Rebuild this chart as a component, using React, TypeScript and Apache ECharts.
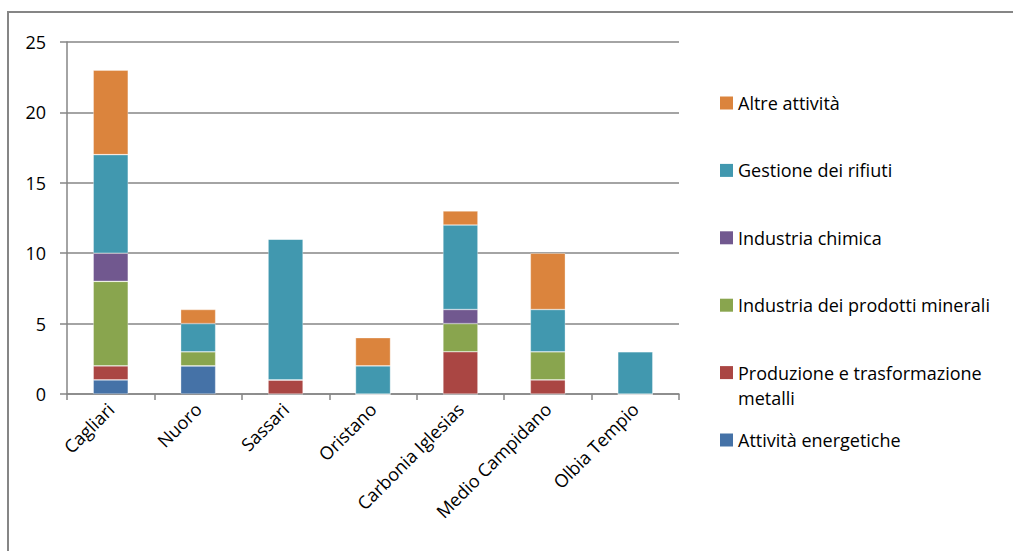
import React, { useEffect, useRef } from "react";
import * as echarts from "echarts";

const categories = ["Cagliari", "Nuoro", "Sassari", "Oristano", "Carbonia Iglesias", "Medio Campidano", "Olbia Tempio"];

const seriesNames = [
  "Attività energetiche",
  "Produzione e trasformazione metalli",
  "Industria dei prodotti minerali",
  "Industria chimica",
  "Gestione dei rifiuti",
  "Altre attività",
];

const attivitaEnergetiche = [1, 2, 0, 0, 0, 0, 0];
const produzioneMetalli = [1, 0, 1, 0, 3, 1, 0];
const prodottiMinerali = [6, 1, 0, 0, 2, 2, 0];
const industriaChimica = [2, 0, 0, 0, 1, 0, 0];
const gestioneRifiuti = [7, 2, 10, 2, 6, 3, 3];
const altreAttivita = [6, 1, 0, 2, 1, 4, 0];

const seriesValues = [attivitaEnergetiche, produzioneMetalli, prodottiMinerali, industriaChimica, gestioneRifiuti, altreAttivita];
const colors = ["#4572A7", "#AA4643", "#89A54E", "#71588F", "#4198AF", "#DB843D"];

const yTicks = { min: 0, max: 25, interval: 5 };

const FONT = "'Open Sans'";
const FS = 18;

export default function App() {
  const ref = useRef<HTMLDivElement>(null);
  useEffect(() => {
    if (!ref.current) return;
    const chart = echarts.init(ref.current, undefined, { renderer: "svg" });

    const legendTop = 103;
    const legendStep = 67.4;
    const legendItems: any[] = [];
    const order = seriesNames.map((_, i) => seriesNames.length - 1 - i);
    order.forEach((si, k) => {
      const cy = legendTop + k * legendStep;
      const name = seriesNames[si];
      const isTwoLine = name === "Produzione e trasformazione metalli";
      legendItems.push({
        type: "rect",
        shape: { x: 720, y: cy - 6.5, width: 13, height: 13 },
        style: { fill: colors[si] },
        silent: true,
      });
      legendItems.push({
        type: "text",
        x: 738,
        y: isTwoLine ? cy - 12.5 : cy,
        style: {
          text: isTwoLine ? "Produzione e trasformazione\nmetalli" : name,
          fill: "#000",
          font: `${FS}px ${FONT}`,
          lineHeight: 25,
          verticalAlign: isTwoLine ? "top" : "middle",
          align: "left",
        },
        silent: true,
      });
    });

    chart.setOption({
      animation: false,
      grid: { left: 67, top: 42, width: 612, height: 352, containLabel: false },
      xAxis: {
        type: "category",
        data: categories,
        axisLine: { show: true, lineStyle: { color: "#868686", width: 1.5 } },
        axisTick: { show: true, length: 6, alignWithLabel: false, lineStyle: { color: "#868686", width: 1.5 } },
        axisLabel: {
          rotate: 45,
          margin: 12,
          color: "#000",
          fontFamily: FONT,
          fontSize: FS,
          interval: 0,
        },
      },
      yAxis: {
        type: "value",
        min: yTicks.min,
        max: yTicks.max,
        interval: yTicks.interval,
        axisLine: { show: true, lineStyle: { color: "#868686", width: 1.5 } },
        axisTick: { show: true, length: 7, lineStyle: { color: "#868686", width: 1.5 } },
        splitLine: { show: true, lineStyle: { color: "#868686", width: 1.5 } },
        axisLabel: { color: "#000", fontFamily: FONT, fontSize: FS, margin: 21 },
      },
      series: seriesNames.map((name, i) => ({
        name,
        type: "bar",
        stack: "total",
        barWidth: "40%",
        data: seriesValues[i],
        itemStyle: { color: colors[i], borderColor: "rgba(255,255,255,0.55)", borderWidth: 0.6 },
      })),
      graphic: [
        {
          type: "rect",
          shape: { x: 8, y: 12, width: 1040, height: 580 },
          style: { fill: "none", stroke: "#868686", lineWidth: 2 },
          silent: true,
          z: -1,
        },
        ...legendItems,
      ],
    });
    return () => chart.dispose();
  }, []);
  return <div ref={ref} style={{ position: "fixed", left: 0, top: 0, width: 1013, height: 551, background: "#fff" }} />;
}
